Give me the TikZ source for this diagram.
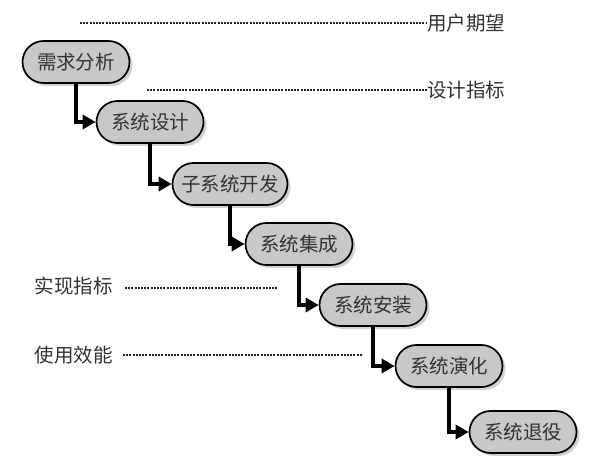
\documentclass[tikz,border=0pt]{standalone}
\usepackage{fontspec}
\newfontfamily\cjk{Noto Sans CJK SC}
\usetikzlibrary{shapes.misc,shadows,arrows.meta}
\definecolor{boxgray}{RGB}{200,200,200}
\definecolor{txtgray}{RGB}{50,50,50}
\tikzset{
  phase/.style={rounded rectangle, draw=black, line width=1.7pt, fill=boxgray,
    minimum height=42pt, minimum width=107pt, inner sep=0pt,
    font=\cjk\fontsize{19.5}{22}\selectfont, text=txtgray,
    drop shadow={shadow xshift=3pt, shadow yshift=-3pt, fill=black!30, opacity=0.6}},
  flow/.style={line width=3.3pt, -{Triangle[length=13pt,width=14pt]}},
  lbl/.style={font=\cjk\fontsize{19.5}{22}\selectfont, text=txtgray, inner sep=0pt},
  dot/.style={line width=1.3pt, dash pattern=on 2pt off 1.2pt, black!85}
}
\begin{document}
\begin{tikzpicture}[x=1pt,y=-1pt]
\useasboundingbox (0,0) rectangle (595,470);
\node[phase] (n1) at (76,62) {需求分析};
\node[phase] (n2) at (150,122) {系统设计};
\node[phase, minimum width=115pt] (n3) at (230,184) {子系统开发};
\node[phase] (n4) at (299,244) {系统集成};
\node[phase] (n5) at (373,305) {系统安装};
\node[phase] (n6) at (449,366) {系统演化};
\node[phase] (n7) at (523,432) {系统退役};
\draw[flow] (n1.south) |- (n2.west);
\draw[flow] (n2.south) |- (n3.west);
\draw[flow] (n3.south) |- (n4.west);
\draw[flow] (n4.south) |- (n5.west);
\draw[flow] (n5.south) |- (n6.west);
\draw[flow] (n6.south) |- (n7.west);
\node[lbl, anchor=west] (l1) at (427,23) {用户期望};
\node[lbl, anchor=west] (l2) at (427,90) {设计指标};
\node[lbl, anchor=east] (l3) at (113,286) {实现指标};
\node[lbl, anchor=east] (l4) at (113,355) {使用效能};
\coordinate (d1) at (80,23);
\coordinate (d2) at (147,90);
\coordinate (d3a) at (125,288);
\coordinate (d3b) at (278,288);
\coordinate (d4a) at (123,355);
\coordinate (d4b) at (362,355);
\draw[dot] (d1) -- (l1.west);
\draw[dot] (d2) -- (l2.west);
\draw[dot] (d3a) -- (d3b);
\draw[dot] (d4a) -- (d4b);
\end{tikzpicture}
\end{document}
